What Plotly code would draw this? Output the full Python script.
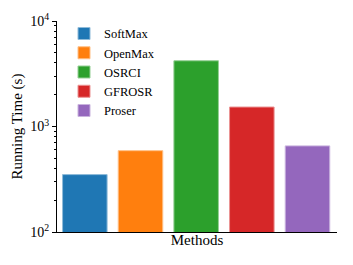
import plotly.graph_objects as go

methods = ["SoftMax", "OpenMax", "OSRCI", "GFROSR", "Proser"]
running_time = [350, 590, 4200, 1530, 655]
colors = ["#1f77b4", "#ff7f0e", "#2ca02c", "#d62728", "#9467bd"]
edge_colors = ["#8fbbd9", "#ffbf86", "#95cf95", "#eb9393", "#c9b3de"]

fig = go.Figure()
for i, (m, v) in enumerate(zip(methods, running_time)):
    fig.add_trace(go.Bar(
        x=[i], y=[v], name=m, width=0.8,
        marker=dict(color=colors[i], line=dict(color=edge_colors[i], width=1)),
    ))

font = "Liberation Serif, Times New Roman, serif"
fig.update_layout(
    width=345, height=257,
    margin=dict(l=49, r=16, t=13, b=33, autoexpand=False),
    paper_bgcolor="white", plot_bgcolor="white",
    font=dict(family=font, size=13, color="black"),
    showlegend=True,
    legend=dict(x=0.025, y=1.01, xanchor="left", yanchor="top",
                font=dict(size=12.5, family=font), bgcolor="rgba(0,0,0,0)",
                itemwidth=30, tracegroupgap=0),
    barmode="overlay",
)
fig.update_xaxes(
    range=[-0.5, 4.53], showticklabels=False, ticks="", automargin=False,
    showline=True, linecolor="black", linewidth=1, showgrid=False, zeroline=False,
    title=dict(text="Methods", font=dict(size=15, family=font), standoff=2),
)
fig.update_yaxes(
    type="log", range=[2, 4], automargin=False,
    tickvals=[100, 1000, 10000],
    ticktext=["10<sup>2</sup>", "10<sup>3</sup>", "10<sup>4</sup>"],
    ticks="outside", ticklen=4, tickcolor="black",
    minor=dict(tickvals=[k * 10**e for e in (2, 3) for k in range(2, 10)],
               ticks="outside", ticklen=2, tickcolor="black"),
    showline=True, linecolor="black", linewidth=1, showgrid=False, zeroline=False,
    tickfont=dict(size=14, family=font),
    title=dict(text="Running Time (s)", font=dict(size=15, family=font), standoff=4),
)
fig.write_html("out.html")
